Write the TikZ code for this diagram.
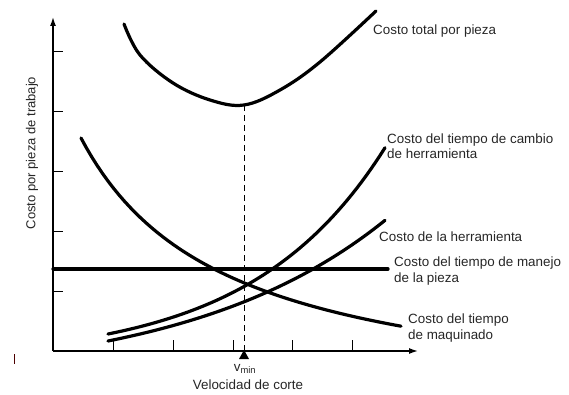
\documentclass[tikz,border=0pt]{standalone}
\usepackage{fontspec}
\setmainfont{Liberation Sans}
\usetikzlibrary{arrows.meta}
\begin{document}
\begin{tikzpicture}[x=1pt,y=-1pt,
  axis/.style={line width=1.4pt,-{Latex[length=9pt,width=6pt]}},
  tickmark/.style={line width=0.9pt},
  curve/.style={line width=3.2pt,line cap=round},
  lbl/.style={anchor=west,align=left,font=\fontsize{13.4}{15.5}\selectfont,inner sep=0pt,text=black!85}]
\useasboundingbox (0,0) rectangle (569,395);
% axes
\coordinate (O) at (53,351);
\coordinate (ytop) at (53,17);
\coordinate (xend) at (418,351);
\draw[axis] (O) -- (ytop);
\draw[axis] (O) -- (xend);
\foreach \y in {51,111,171,231,291} \draw[tickmark] (53,\y) -- (63,\y);
\foreach \x in {113,173,233,292,352} \draw[tickmark] (\x,351) -- (\x,340);
% vmin marker
\coordinate (vm) at (244,350);
\fill (vm) -- (239,359) -- (249,359) -- cycle;
\draw[dash pattern=on 6pt off 4pt,line width=0.7pt] (244,105) -- (vm);
% total cost
\draw[curve] plot[smooth,tension=0.6] coordinates {(124,24) (140,55) (173,83) (210,100) (244,105) (280,90) (320,62) (376,11)};
% machining
\draw[curve] plot[domain=81:401,samples=60] (\x,{411-3936.7/((\x+63.2)/10)});
% handling
\draw[curve] (53,269) -- (388,269);
% tool change
\draw[curve] plot[domain=108:385,samples=60] (\x,{361-27*exp(0.00746*(\x-108))});
% tool
\draw[curve] plot[domain=108:385,samples=60] (\x,{381-40*exp(0.005027*(\x-108))});
% labels
\node[lbl] (l1) at (373,31) {Costo total por pieza};
\node[lbl] (l2) at (387,146) {Costo del tiempo de cambio\\de herramienta};
\node[lbl] (l3) at (379,237) {Costo de la herramienta};
\node[lbl] (l4) at (394,271) {Costo del tiempo de manejo\\de la pieza};
\node[lbl] (l5) at (408,328) {Costo del tiempo\\de maquinado};
\node[font=\fontsize{13.4}{15}\selectfont,text=black!85] (vl) at (245,369) {v\textsubscript{min}};
\node[font=\fontsize{13.4}{15}\selectfont,text=black!85] (xl) at (248,385) {Velocidad de corte};
\node[font=\fontsize{13}{15}\selectfont,rotate=90,text=black!85] (yl) at (32,153) {Costo por pieza de trabajo};
\draw[line width=0.8pt,black!70!red] (14,354) -- (14,364);
\end{tikzpicture}
\end{document}
